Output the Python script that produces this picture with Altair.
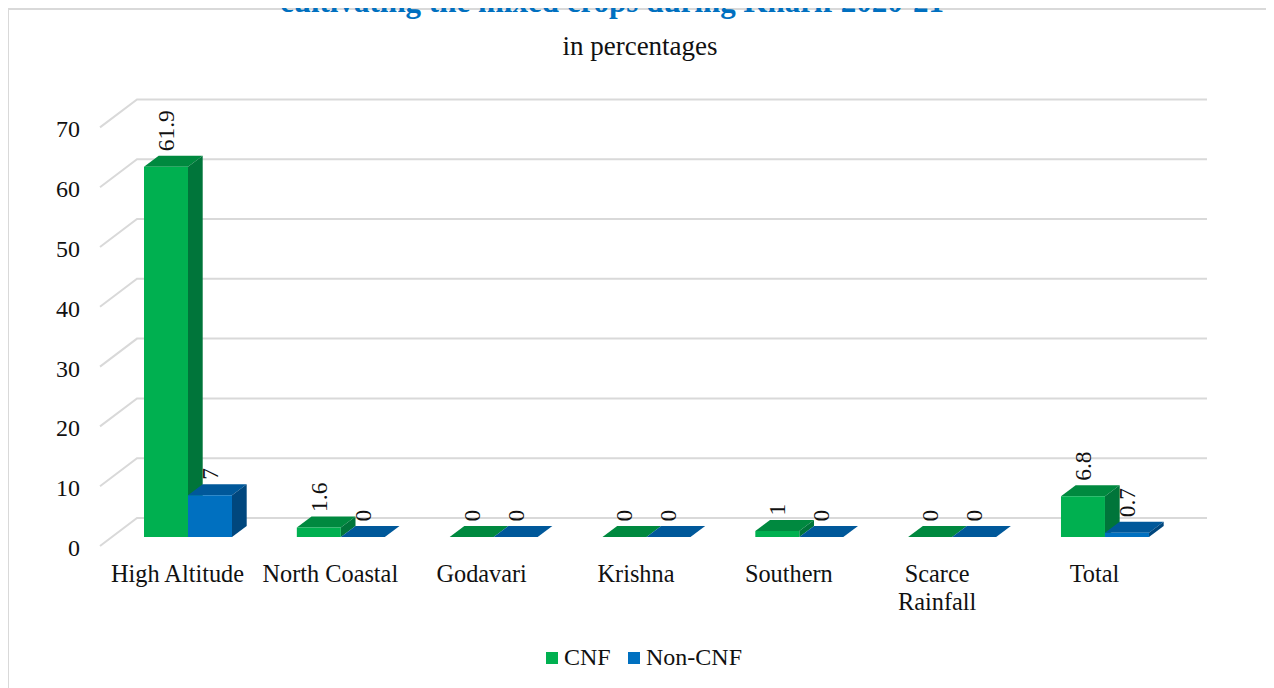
import altair as alt
import pandas as pd

categories = ["High Altitude", "North Coastal", "Godavari", "Krishna", "Southern", "Scarce Rainfall", "Total"]
cnf = [61.9, 1.6, 0, 0, 1, 0, 6.8]
non_cnf = [7, 0, 0, 0, 0, 0, 0.7]
ticks = [0, 10, 20, 30, 40, 50, 60, 70]
series_names = ["CNF", "Non-CNF"]
front_colors = ["#00B050", "#0070C0"]
top_colors = ["#00893F", "#00589A"]
side_colors = ["#00753A", "#00477E"]

FONT = "Liberation Serif"
W, H = 1258, 680
CAT_PX = 152.83
VAL_PX = 5.98
X0_PX, Y0_PX = 180.0, 529.0  # svg position of category 0 / value 0
BAR = 44 / CAT_PX
DX = 14.7 / CAT_PX
DY = 11 / VAL_PX

xscale = alt.Scale(domain=[-X0_PX / CAT_PX, (W - X0_PX) / CAT_PX], range=[0, W], nice=False, zero=False)
yscale = alt.Scale(domain=[(Y0_PX - H) / VAL_PX, Y0_PX / VAL_PX], range=[H, 0], nice=False, zero=False)
X = lambda f: alt.X(f"{f}:Q", scale=xscale, axis=None)
Y = lambda f: alt.Y(f"{f}:Q", scale=yscale, axis=None)

bars = []
for s, vals in enumerate([cnf, non_cnf]):
    for c, v in enumerate(vals):
        bars.append(dict(series=series_names[s], s=s, c=c, v=v,
                         xl=c + (s - 1) * BAR, xr=c + s * BAR, zero=0))
bars = pd.DataFrame(bars)

faces = []
for r in bars.itertuples():
    key = f"{r.s}-{r.c}"
    faces += [
        dict(k=key + "t", s=r.s, fill=top_colors[r.s], x=r.xl, y=r.v, y2=r.v),
        dict(k=key + "t", s=r.s, fill=top_colors[r.s], x=r.xl + DX, y=r.v + DY, y2=r.v),
        dict(k=key + "t", s=r.s, fill=top_colors[r.s], x=r.xr, y=r.v + DY, y2=r.v),
        dict(k=key + "t", s=r.s, fill=top_colors[r.s], x=r.xr + DX, y=r.v + DY, y2=r.v + DY),
        dict(k=key + "s", s=r.s, fill=side_colors[r.s], x=r.xr, y=r.v, y2=0),
        dict(k=key + "s", s=r.s, fill=side_colors[r.s], x=r.xr + DX, y=r.v + DY, y2=DY),
    ]
faces = pd.DataFrame(faces)

BACK_L = -51 / CAT_PX
FRONT_L = -88 / CAT_PX
BACK_R = (1207 - 188) / CAT_PX
BACK_UP = 19 / VAL_PX
FRONT_DOWN = 9 / VAL_PX
grid = []
for t in ticks:
    grid += [dict(t=t, x=FRONT_L, y=t - FRONT_DOWN), dict(t=t, x=BACK_L, y=t + BACK_UP), dict(t=t, x=BACK_R, y=t + BACK_UP)]
grid = pd.DataFrame(grid)

gridl = alt.Chart(grid).mark_line(color="#D9D9D9", strokeWidth=2).encode(x=X("x"), y=Y("y"), detail="t:N")

frame = alt.Chart(pd.DataFrame({"a": [0]})).mark_rect(fill="white", stroke="#D9D9D9", strokeWidth=2).encode(
    x=alt.value(0), x2=alt.value(1263), y=alt.value(1), y2=alt.value(720))


def face_layer(s):
    return alt.Chart(faces[faces.s == s]).mark_area(interpolate="linear").encode(
        x=X("x"), y=Y("y"), y2="y2:Q", detail="k:N", color=alt.Color("fill:N", scale=None, legend=None))


fronts = alt.Chart(bars).mark_rect().encode(
    x=X("xl"), x2="xr:Q", y=Y("v"), y2="zero:Q",
    color=alt.Color("series:N", scale=alt.Scale(domain=series_names, range=front_colors),
                    legend=alt.Legend(title=None, orient="none", legendX=532, legendY=638, direction="horizontal",
                                      symbolType="square", symbolSize=144, symbolStrokeWidth=0,
                                      labelFont=FONT, labelFontSize=24, labelColor="#111111",
                                      symbolOpacity=1, columnPadding=11, labelOffset=0, rowPadding=0)))

lab = bars.copy()
lab["lx"] = (lab.xl + lab.xr) / 2 + 1 / CAT_PX
lab["ly"] = lab.v + DY + 4.5 / VAL_PX
lab["txt"] = lab.v.map(lambda v: f"{v:g}")
value_labels = alt.Chart(lab).mark_text(font=FONT, fontSize=23.5, angle=270, align="left", baseline="middle", color="#111111").encode(
    x=X("lx"), y=Y("ly"), text="txt:N")

tick_df = pd.DataFrame({"t": ticks, "x": [FRONT_L - 20 / CAT_PX] * len(ticks), "y": [t - 2.0 for t in ticks]})
tick_labels = alt.Chart(tick_df).mark_text(font=FONT, fontSize=24, align="right", baseline="middle", color="#111111").encode(
    x=X("x"), y=Y("y"), text="t:N")

nudge = {"Godavari": -12, "Scarce Rainfall": -15}
cat_rows = []
for i, name in enumerate(categories):
    cat_rows.append(dict(c=i + nudge.get(name, -10.5) / CAT_PX, label=name.split(" ") if name == "Scarce Rainfall" else [name]))
cat_labels = alt.Chart(pd.DataFrame(cat_rows)).mark_text(
    font=FONT, fontSize=24.3, align="center", baseline="middle", color="#111111", lineHeight=28
).encode(x=X("c"), y=alt.value(567), text="label")

subtitle = alt.Chart(pd.DataFrame({"t": ["in percentages"]})).mark_text(
    font=FONT, fontSize=27, align="center", baseline="middle", color="#111111"
).encode(x=alt.value(632), y=alt.value(39), text="t:N")

title = alt.Chart(pd.DataFrame({"t": ["cultivating the mixed crops during Kharif 2020-21"]})).mark_text(
    font=FONT, fontSize=31, fontWeight="bold", align="center", baseline="alphabetic", color="#0070C0"
).encode(x=alt.value(604), y=alt.value(4), text="t:N")

chart = alt.layer(
    frame, title, subtitle, gridl, face_layer(0), face_layer(1), fronts, value_labels, tick_labels, cat_labels
).resolve_scale(color="independent").properties(
    width=W, height=H, padding=0, autosize="none", background="white"
).configure_view(stroke=None)

chart.save("out.html", embed_options={"renderer": "svg", "actions": False})
